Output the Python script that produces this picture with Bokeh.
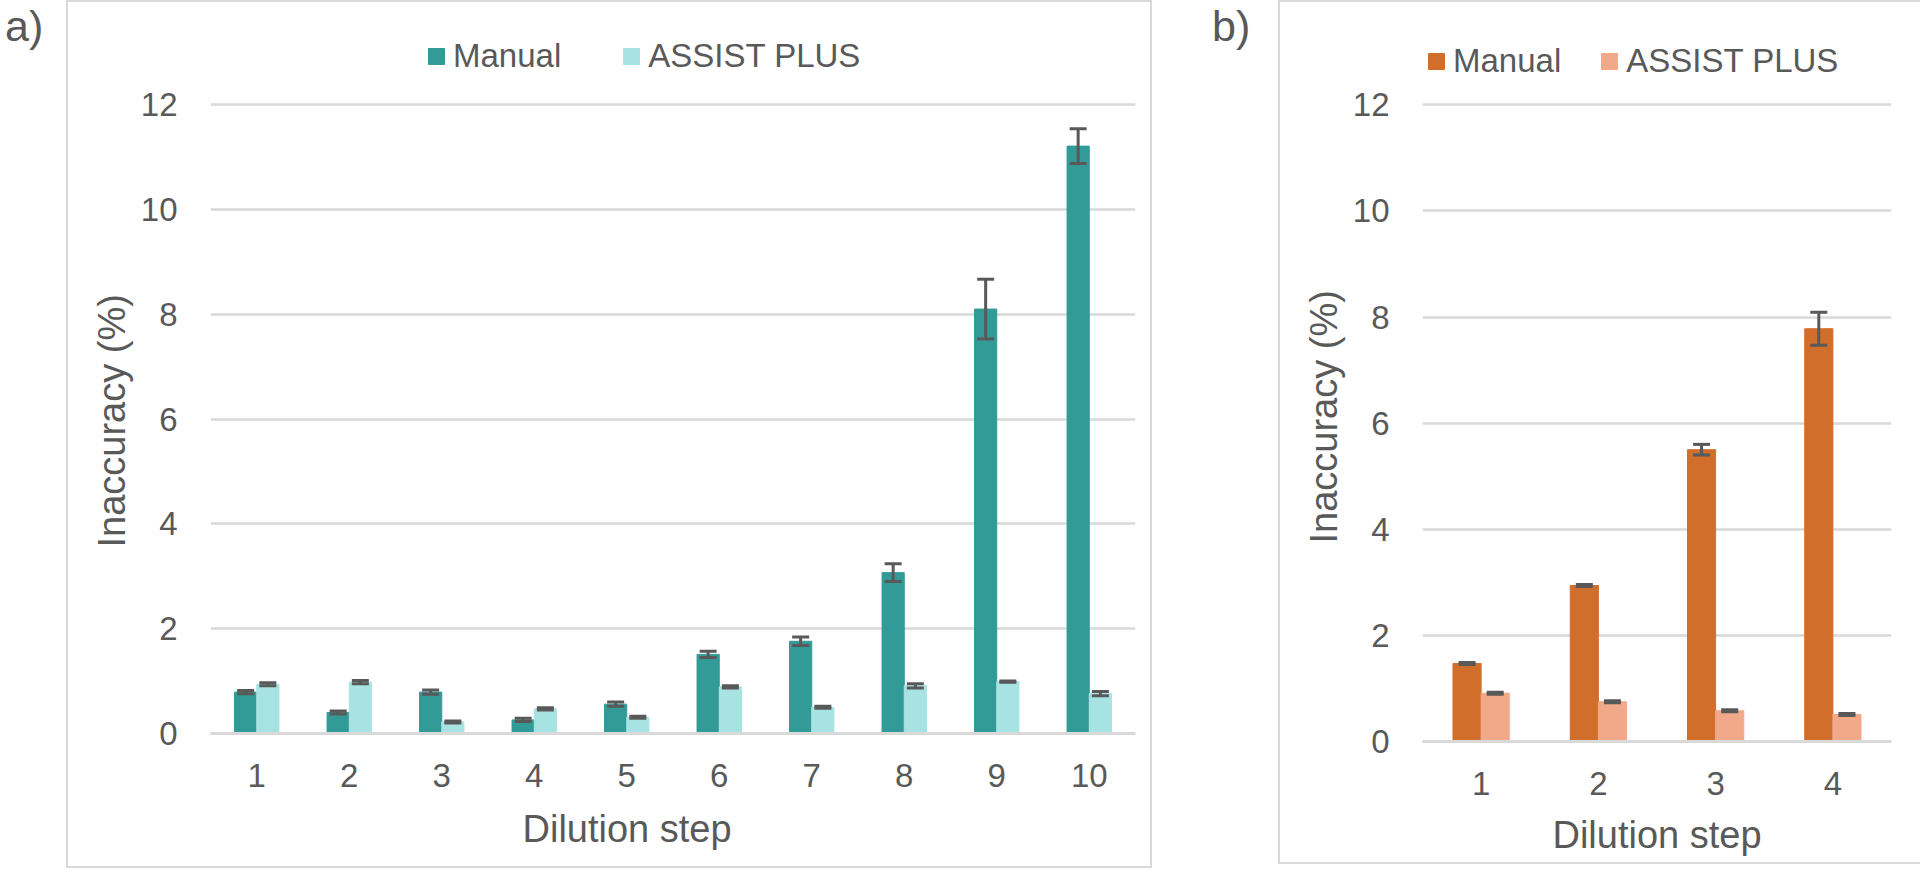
from bokeh.plotting import figure
from bokeh.models import (ColumnDataSource, Range1d, FixedTicker, Whisker, Legend,
                          LegendItem, Div, TeeHead, Title)
from bokeh.layouts import row
from bokeh.embed import file_html
from bokeh.resources import INLINE

# ---------------- data ----------------
steps_a = [1, 2, 3, 4, 5, 6, 7, 8, 9, 10]
manual_a = [0.79, 0.40, 0.79, 0.26, 0.56, 1.51, 1.76, 3.07, 8.10, 11.21]
manual_a_err = [0.03, 0.03, 0.04, 0.03, 0.04, 0.06, 0.08, 0.17, 0.57, 0.33]
assist_a = [0.94, 0.98, 0.22, 0.47, 0.31, 0.89, 0.50, 0.91, 0.99, 0.76]
assist_a_err = [0.03, 0.03, 0.02, 0.02, 0.02, 0.02, 0.02, 0.04, 0.01, 0.04]

steps_b = [1, 2, 3, 4]
manual_b = [1.47, 2.94, 5.50, 7.78]
manual_b_err = [0.02, 0.02, 0.10, 0.31]
assist_b = [0.91, 0.75, 0.58, 0.51]
assist_b_err = [0.02, 0.02, 0.02, 0.02]

series_names = ["Manual", "ASSIST PLUS"]
y_ticks = [0, 2, 4, 6, 8, 10, 12]
x_title = "Dilution step"
y_title = "Inaccuracy (%)"

FONT = "Liberation Sans"
TXT = "#595959"
GRID = "#D9D9D9"
BAR_W = 0.24
H = 860


def panel(steps, man, man_err, ast, ast_err, colors, width, frame_w, frame_h, y_end,
          leg_loc, leg_spacing, y_title_offset, x_title_offset=None):
    top_b = 10
    p = figure(width=width, height=H, output_backend="svg", toolbar_location=None,
               x_range=Range1d(0.5, len(steps) + 0.5), y_range=Range1d(0, y_end),
               min_border_left=142, min_border_top=top_b,
               min_border_right=width - 142 - frame_w,
               min_border_bottom=H - top_b - frame_h)
    p.frame_width = frame_w
    p.frame_height = frame_h
    p.outline_line_color = None
    p.background_fill_color = "white"
    p.border_fill_color = "white"
    p.styles = {"border": "2px solid #D9D9D9"}

    src_m = ColumnDataSource(dict(x=[s - BAR_W / 2 for s in steps], top=man,
                                  upper=[v + e for v, e in zip(man, man_err)],
                                  lower=[v - e for v, e in zip(man, man_err)]))
    src_a = ColumnDataSource(dict(x=[s + BAR_W / 2 for s in steps], top=ast,
                                  upper=[v + e for v, e in zip(ast, ast_err)],
                                  lower=[v - e for v, e in zip(ast, ast_err)]))
    r_m = p.vbar(x="x", top="top", width=BAR_W, source=src_m, fill_color=colors[0],
                 line_color=colors[0], line_width=1)
    r_a = p.vbar(x="x", top="top", width=BAR_W, source=src_a, fill_color=colors[1],
                 line_color=colors[1], line_width=1)
    for src in (src_m, src_a):
        w = Whisker(source=src, base="x", upper="upper", lower="lower",
                    line_color=TXT, line_width=3, level="annotation",
                    upper_head=TeeHead(size=17, line_color=TXT, line_width=3),
                    lower_head=TeeHead(size=17, line_color=TXT, line_width=3))
        p.add_layout(w)

    # axes
    p.xaxis.ticker = FixedTicker(ticks=steps)
    p.yaxis.ticker = FixedTicker(ticks=y_ticks)
    for ax in (p.xaxis[0], p.yaxis[0]):
        ax.major_tick_line_color = None
        ax.minor_tick_line_color = None
        ax.major_label_text_font = FONT
        ax.major_label_text_font_size = "33px"
        ax.major_label_text_color = TXT
        ax.axis_label_text_font = FONT
        ax.axis_label_text_font_size = "38px"
        ax.axis_label_text_font_style = "normal"
        ax.axis_label_text_color = TXT
    p.xaxis.axis_line_color = GRID
    p.xaxis.axis_line_width = 3
    p.yaxis.axis_line_color = None
    p.xaxis.major_label_standoff = 24
    p.yaxis.major_label_standoff = 27

    ty = Title(text=y_title, align="left", offset=y_title_offset, standoff=10,
               text_font=FONT, text_font_size="38px", text_font_style="normal",
               text_color=TXT)
    p.add_layout(ty, "left")
    if x_title_offset is None:
        p.xaxis.axis_label = x_title
        p.xaxis.axis_label_standoff = 16
    else:
        tx = Title(text=x_title, align="left", offset=x_title_offset, standoff=37,
                   text_font=FONT, text_font_size="38px", text_font_style="normal",
                   text_color=TXT, vertical_align="top")
        p.add_layout(tx, "below")
    p.xgrid.grid_line_color = None
    p.ygrid.grid_line_color = GRID
    p.ygrid.grid_line_width = 2.5

    leg = Legend(items=[LegendItem(label=series_names[0], renderers=[r_m]),
                        LegendItem(label=series_names[1], renderers=[r_a])],
                 orientation="horizontal", location=leg_loc,
                 spacing=leg_spacing, padding=0, margin=0,
                 glyph_width=20, glyph_height=20,
                 label_standoff=7, label_text_font=FONT, label_text_font_size="33px",
                 label_text_color=TXT, border_line_color=None,
                 background_fill_alpha=0)
    p.add_layout(leg, "center")
    return p


pa = panel(steps_a, manual_a, manual_a_err, assist_a, assist_a_err,
           ["#329B98", "#A6E3E2"], 1082, 921, 717, 13.76, (216, 658), 60, 186,
           x_title_offset=312)
pb = panel(steps_b, manual_b, manual_b_err, assist_b, assist_b_err,
           ["#D26E2B", "#F1A98A"], 640, 465, 725, 13.74, (4, 661), 38, 198)

lab_style = {"font-family": FONT, "font-size": "43px", "color": TXT, "line-height": "1"}
da = Div(text="a)", width=56, height=H, styles=lab_style)
db = Div(text='<div style="padding-left:55px">b)</div>', width=116, height=H,
         styles=lab_style)

layout = row(da, pa, db, pb)
open("out.html", "w").write(file_html(layout, INLINE))
